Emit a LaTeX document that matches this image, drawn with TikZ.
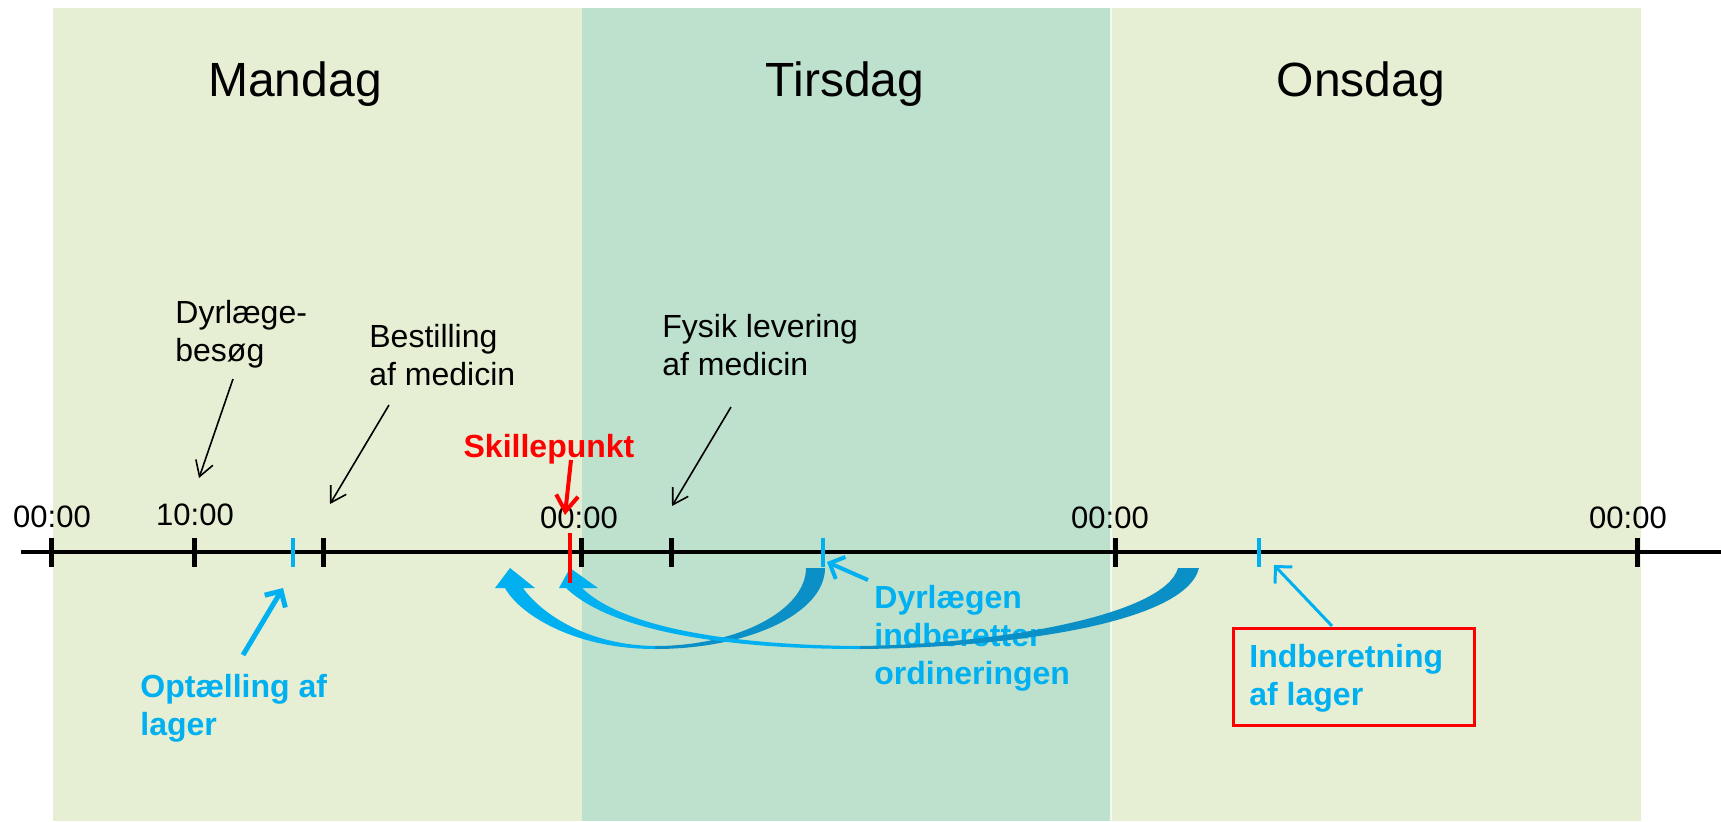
\documentclass[tikz,border=0pt]{standalone}
\usepackage{fontspec}
\setmainfont{Liberation Sans}
\usetikzlibrary{arrows.meta}
\definecolor{bandA}{HTML}{E6EFD3}
\definecolor{bandB}{HTML}{BEE1CE}
\definecolor{pblue}{HTML}{00B0F0}
\definecolor{dblue}{HTML}{0A8FC6}
\begin{document}
\begin{tikzpicture}[x=0.5pt,y=-0.5pt,
  txt/.style={inner sep=0pt, anchor=north west, align=left, font=\fontsize{16}{19}\selectfont},
  btxt/.style={txt, text=pblue, font=\fontsize{16}{19}\selectfont\bfseries},
  daytxt/.style={inner sep=0pt, anchor=base, font=\fontsize{24}{28}\selectfont},
  timetxt/.style={inner sep=0pt, anchor=base, font=\fontsize{15.5}{18}\selectfont},
  tickmark/.style={line width=2.5pt},
  bluetick/.style={line width=2pt, pblue},
  thinarrow/.style={line width=0.8pt, -{Straight Barb[length=7.5pt,width=9pt]}},
  bluearrow/.style={pblue, -{Straight Barb[length=6pt,width=12pt]}},
]
\useasboundingbox (0,0) rectangle (1721,821);

% day bands
\fill[bandA] (53,8) rectangle (582,821);
\fill[bandB] (582,8) rectangle (1111,821);
\fill[bandA] (1111,8) rectangle (1641,821);
\draw[white, line width=0.6pt, opacity=0.7] (1111,8) -- (1111,821);

\node[daytxt] (mon) at (295,96) {Mandag};
\node[daytxt] (tue) at (845,96) {Tirsdag};
\node[daytxt] (wed) at (1361,96) {Onsdag};

% time axis
\coordinate (axL) at (21,552);
\coordinate (axR) at (1721,552);
\draw[line width=2.25pt] (axL) -- (axR);

\foreach \x in {51,194,323,581,671,1115,1637}
  \draw[tickmark] (\x,538) -- (\x,567);
\foreach \x in {293,823,1259}
  \draw[bluetick] (\x,538) -- (\x,567);

\node[timetxt] (t0) at (52,527) {00:00};
\node[timetxt] (t10) at (195,525) {10:00};
\node[timetxt] (t1) at (579,528) {00:00};
\node[timetxt] (t2) at (1110,528) {00:00};
\node[timetxt] (t3) at (1628,528) {00:00};

% black labels and arrows
\node[txt] (vet) at (175,300) {Dyrlæge-\\besøg};
\node[txt] (order) at (369,324) {Bestilling\\af medicin};
\node[txt] (deliv) at (662,314) {Fysik levering\\af medicin};

\coordinate (a1s) at (233,379); \coordinate (a1e) at (199,478);
\coordinate (a2s) at (389,405); \coordinate (a2e) at (330,504);
\coordinate (a3s) at (731,407); \coordinate (a3e) at (672,506);
\draw[thinarrow] (a1s) -- (a1e);
\draw[thinarrow] (a2s) -- (a2e);
\draw[thinarrow] (a3s) -- (a3e);

% blue labels
\node[btxt] (count) at (140,674) {Optælling af\\lager};
\node[btxt] (report) at (874,585) {Dyrlægen\\indberetter\\ordineringen};
\node[draw=red, line width=1.5pt, inner sep=0pt, minimum width=120.5pt, minimum height=48.5pt, anchor=north west] (ibox) at (1232,627) {};
\node[btxt] (stock) at (1249,644) {Indberetning\\af lager};

\coordinate (bs1) at (243,655); \coordinate (be1) at (283,588);
\coordinate (bs2) at (868,580); \coordinate (be2) at (827,562);
\coordinate (bs3) at (1332,626); \coordinate (be3) at (1274,565);
\draw[bluearrow, line width=2.5pt] (bs1) -- (be1);
\draw[bluearrow, line width=2pt] (bs2) -- (be2);
\draw[bluearrow, line width=1.5pt] (bs3) -- (be3);

% curved arrows
\fill[dblue] (825,568) .. controls (825,613) and (749,649) .. (655,649)
  -- (655,646) .. controls (738,646) and (806,610) .. (806,568) -- cycle;
\fill[pblue] (655,649) .. controls (575,649) and (520,615) .. (505,588)
  -- (495,588) -- (510,568) -- (535,588) -- (523,588)
  .. controls (540,612) and (585,645) .. (655,646) -- cycle;

\fill[dblue] (1199,568) .. controls (1185,625) and (1000,648) .. (860,649)
  -- (860,646) .. controls (1000,644) and (1165,615) .. (1178,568) -- cycle;
\fill[pblue] (860,649) .. controls (720,649) and (610,630) .. (566,588)
  -- (559,588) -- (570,568) -- (598,588) -- (582,588)
  .. controls (620,625) and (720,645) .. (860,646) -- cycle;

% Skillepunkt
\draw[red, line width=2.25pt] (570,533) -- (570,583);
\node[inner sep=0pt, anchor=base, text=red, font=\fontsize{16}{19}\selectfont\bfseries] (sk) at (549,457) {Skillepunkt};
\coordinate (rs) at (571,460); \coordinate (re) at (565,515);
\draw[red, line width=2pt, -{Straight Barb[length=8pt,width=11pt]}] (rs) -- (re);
\end{tikzpicture}
\end{document}
